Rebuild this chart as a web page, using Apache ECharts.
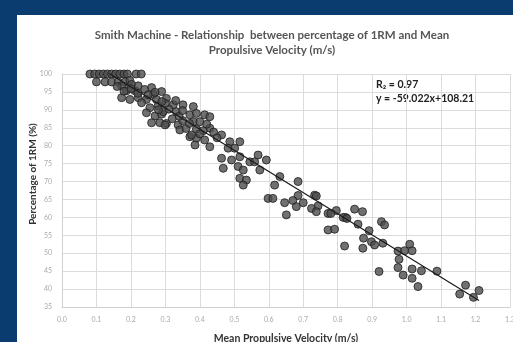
<!DOCTYPE html>
<html>
<head>
<meta charset="utf-8">
<script src="https://cdn.jsdelivr.net/npm/echarts@6/dist/echarts.min.js"></script>
<style>
  html, body { margin: 0; padding: 0; width: 513px; height: 342px; overflow: hidden; background: #0b3c70; }
  #chart { position: absolute; left: 17px; top: 15px; width: 496px; height: 327px; background: #fff; }
</style>
</head>
<body>
<div id="chart"></div>
<script>
const titleText = 'Smith Machine - Relationship  between percentage of 1RM and Mean\nPropulsive Velocity (m/s)';
const xTicks = ['0.0', '0.1', '0.2', '0.3', '0.4', '0.5', '0.6', '0.7', '0.8', '0.9', '1.0', '1.1', '1.2', '1.3'];
const slope = -59.022;
const intercept = 108.21;
const trendRange = [0.08, 1.21];

// mean propulsive velocity (m/s) and %1RM of each repetition
const velocity = [
  0.081, 0.095, 0.108, 0.12, 0.132, 0.144, 0.156, 0.168, 0.18, 0.19, 0.215, 0.23,
  0.10, 0.125, 0.144, 0.163, 0.183, 0.197,
  0.173, 0.187, 0.173, 0.202, 0.212, 0.221, 0.197, 0.221, 0.24, 0.26, 0.245, 0.231, 0.265, 0.274, 0.255, 0.279, 0.245, 0.27, 0.289, 0.26, 0.284,
  0.289, 0.303, 0.323, 0.351, 0.381, 0.294, 0.332, 0.371, 0.39, 0.414, 0.429, 0.303, 0.337, 0.381, 0.4, 0.429, 0.371, 0.39, 0.414, 0.429,
  0.463, 0.487, 0.516, 0.482, 0.501, 0.463, 0.492, 0.516, 0.468, 0.511, 0.526, 0.545, 0.569, 0.593, 0.559, 0.516, 0.535, 0.526, 0.617, 0.632, 0.685, 0.685, 0.733, 0.598, 0.612, 0.574,
  0.299, 0.342, 0.376, 0.386, 0.32, 0.35, 0.36, 0.34, 0.31, 0.28, 0.30, 0.33, 0.35, 0.37, 0.39, 0.41, 0.42, 0.44, 0.45, 0.40, 0.22, 0.25, 0.20, 0.27, 0.29, 0.16, 0.18,
  0.646, 0.67, 0.738, 0.743, 0.724, 0.651, 0.772, 0.796, 0.823, 0.772, 0.791, 0.68, 0.70, 0.82, 0.738, 0.78, 0.816, 0.827,
  0.849, 0.872, 0.859, 0.891, 0.875, 0.873, 0.898, 0.907, 0.927, 0.936, 0.931, 0.92, 0.975, 0.994, 1.009, 1.016, 0.978, 0.975, 0.99, 1.016, 1.043, 1.016, 1.033, 1.088,
  1.154, 1.171, 1.21, 1.194
];
const percent1RM = [
  100, 100, 100, 100, 100, 100, 100, 100, 100, 100, 100, 100,
  97.8, 97.8, 97.8, 97.8, 97.8, 98.2,
  96.7, 95.3, 93.4, 97.1, 95.3, 96.7, 92.9, 93.4, 95.7, 96.2, 92.9, 92.0, 94.3, 92.9, 90.6, 91.1, 89.2, 88.3, 88.8, 86.4, 86.4,
  95.1, 93.2, 91.4, 91.4, 90.9, 89.5, 89.5, 88.6, 89.0, 88.6, 88.1, 86.2, 85.8, 86.7, 86.7, 84.9, 82.5, 82.1, 81.6, 79.7,
  83.0, 81.1, 81.1, 79.3, 79.3, 76.5, 76.0, 76.9, 73.7, 74.2, 73.2, 75.5, 77.4, 76.0, 75.5, 70.9, 70.4, 69.0, 69.0, 71.4, 70.0, 66.1, 66.2, 65.3, 65.3, 73.2,
  85.8, 84.4, 83.0, 80.2, 87.5, 87.0, 84.8, 88.2, 90.2, 90.0, 91.8, 92.6, 89.8, 86.2, 84.6, 84.2, 86.0, 83.8, 82.2, 83.3, 94.6, 94.2, 95.9, 94.9, 92.3, 96.5, 95.2,
  64.1, 64.7, 66.0, 63.2, 62.5, 60.7, 61.1, 61.9, 60.0, 56.5, 56.7, 63.0, 64.1, 52.0, 61.6, 61.1, 60.0, 59.7,
  62.3, 61.6, 58.1, 56.3, 54.2, 51.4, 53.2, 52.3, 58.8, 57.9, 52.8, 44.9, 50.6, 50.7, 52.5, 50.7, 48.3, 46.0, 43.9, 45.6, 45.1, 43.0, 40.7, 45.0,
  38.6, 41.1, 39.6, 37.7
];

const points = velocity.map((v, i) => [v, percent1RM[i]]);
const trend = trendRange.map(x => [x, slope * x + intercept]);

const chart = echarts.init(document.getElementById('chart'));
const font = 'Lato, "Open Sans", sans-serif';

chart.setOption({
  animation: false,
  title: {
    text: titleText,
    left: 250,
    top: 8,
    textAlign: 'center',
    textStyle: { fontFamily: font, fontSize: 11.5, fontWeight: 'bold', color: '#555', lineHeight: 15 }
  },
  grid: { left: 45, right: 3, top: 59, bottom: 35, outerBoundsMode: 'none' },
  xAxis: {
    type: 'value',
    min: 0,
    max: 1.3,
    interval: 0.1,
    name: 'Mean Propulsive Velocity (m/s)',
    nameLocation: 'middle',
    nameGap: 26,
    nameTextStyle: { fontFamily: font, fontSize: 10.5, fontWeight: 'bold', color: '#333' },
    axisLine: { lineStyle: { color: '#d0d0d0' } },
    axisTick: { show: false },
    axisLabel: {
      fontFamily: font, fontSize: 7, color: '#aaa', margin: 9,
      formatter: v => xTicks[Math.round(v * 10)]
    },
    splitLine: { lineStyle: { color: '#dcdcdc' } }
  },
  yAxis: {
    type: 'value',
    min: 35,
    max: 100,
    interval: 5,
    axisLine: { show: true, lineStyle: { color: '#d0d0d0' } },
    axisTick: { show: false },
    axisLabel: { fontFamily: font, fontSize: 7, color: '#aaa', margin: 10 },
    splitLine: { lineStyle: { color: '#dcdcdc' } }
  },
  graphic: [
    {
      type: 'text', x: 16, y: 159, rotation: Math.PI / 2,
      style: {
        text: 'Percentage of 1RM (%)', font: 'bold 10px ' + font, fill: '#333',
        align: 'center', verticalAlign: 'middle'
      }
    },
    {
      type: 'text', left: 359, top: 64,
      style: { text: 'R\u2082 = 0.97', font: 'bold 10.5px ' + font, fill: '#222' }
    },
    {
      type: 'text', left: 359, top: 78,
      style: { text: 'y = -59.022x+108.21', font: 'bold 10.5px ' + font, fill: '#222' }
    }
  ],
  series: [
    {
      type: 'scatter',
      data: points,
      symbolSize: 8,
      itemStyle: { color: '#4d4d4d', borderColor: '#1e1e1e', borderWidth: 1 }
    },
    {
      type: 'line',
      data: trend,
      symbol: 'none',
      clip: true,
      lineStyle: { color: '#1a1a1a', width: 1.2 },
      z: 3
    }
  ]
});
</script>
</body>
</html>
